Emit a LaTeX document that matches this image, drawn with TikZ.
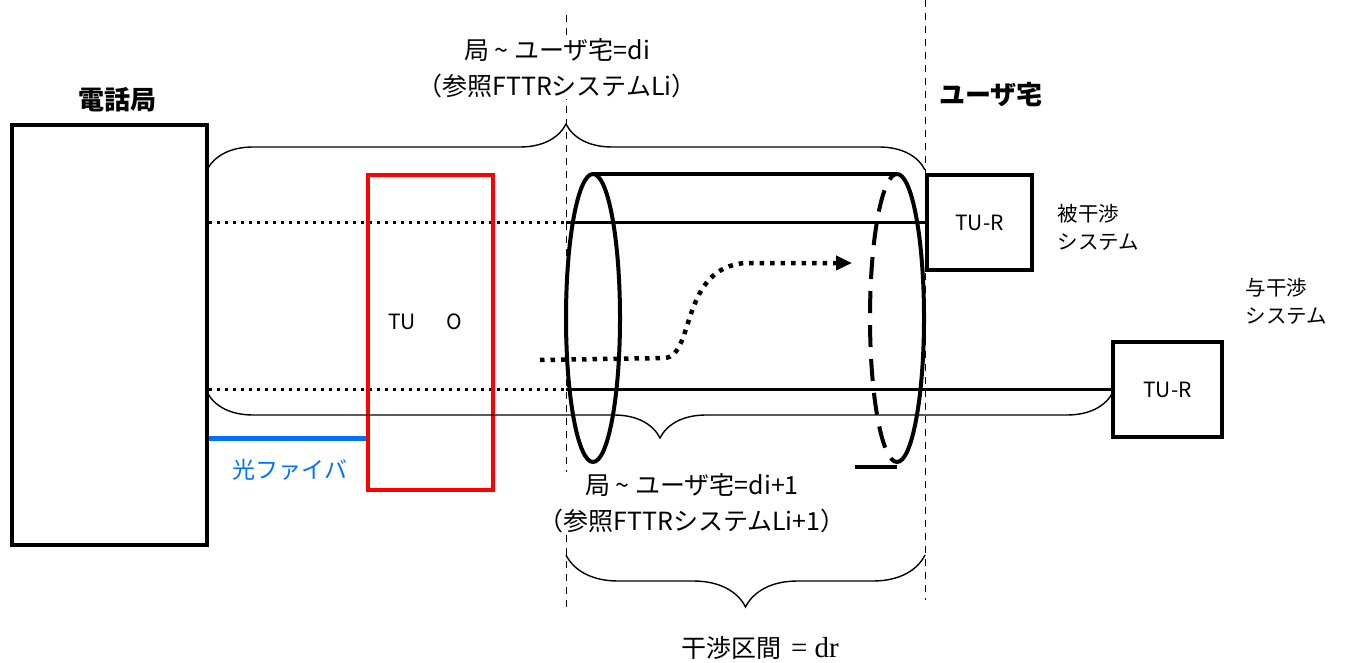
\documentclass[tikz,border=0pt]{standalone}
\usepackage{fontspec}
\setmainfont{Noto Sans CJK JP}
\newfontfamily\serifmath{Liberation Serif}
\usetikzlibrary{decorations.pathreplacing,arrows.meta}
\definecolor{fiberblue}{RGB}{0,112,255}
\tikzset{
  box/.style={draw, line width=4.5pt, minimum width=#1, inner sep=0pt},
  dotline/.style={line width=3pt, dash pattern=on 3pt off 5pt},
  thinline/.style={line width=2.2pt},
  cyl/.style={line width=4pt},
  guide/.style={line width=1pt, dash pattern=on 7pt off 6pt},
  bracestyle/.style={line width=1.4pt, decorate, decoration={brace, amplitude=#1}},
  lbl/.style={font=\fontsize{25}{36}\selectfont, align=center},
}
\begin{document}
\begin{tikzpicture}[x=1pt,y=-1pt]
\useasboundingbox (0,0) rectangle (1348,663);
% guides
\draw[guide] (566,15) -- (566,610);
\draw[guide] (925,0) -- (925,600);
% boxes
\node[box=195pt, minimum height=420pt] (office) at (109.5,335) {};
\node[box=105pt, minimum height=95pt, font=\fontsize{21}{22}\selectfont] (tur1) at (979.5,222.5) {TU-R};
\node[box=109pt, minimum height=95pt, font=\fontsize{21}{22}\selectfont] (tur2) at (1167.5,389.5) {TU-R};
% lines
\coordinate (m1) at (566,222.5);
\coordinate (m2) at (566,389.5);
\draw[dotline] (office.east |- m1) -- (m1);
\draw[thinline] (m1) -- (tur1.west);
\draw[dotline] (office.east |- m2) -- (m2);
\draw[thinline] (m2) -- (tur2.west);
% red TU-O box
\node[draw=red, line width=4pt, minimum width=125pt, minimum height=315pt, font=\fontsize{21}{22}\selectfont] (tuo) at (430.5,332.5) {};
\node[font=\fontsize{21}{22}\selectfont] (tuotext) at (425,322) {TU\hspace{30pt}O};
% fibre
\draw[fiberblue, line width=5pt] (office.east |- 0,438) -- (tuo.west |- 0,438);
\node[text=fiberblue, font=\fontsize{23}{25}\selectfont] (fiber) at (290,470) {光ファイバ};
% braces
\draw[bracestyle=46pt] (207,170) -- (925,170);
\draw[bracestyle=46pt] (1113,392) -- (207,392);
\draw[bracestyle=52pt] (925,555) -- (566,555);
% cylinder
\draw[cyl] (593,318) ellipse [x radius=27, y radius=144];
\draw[cyl] (593,174) -- (897,174);
\begin{scope}
\clip (897,100) rectangle (1000,520);
\draw[cyl] (897,318) ellipse [x radius=27, y radius=144];
\end{scope}
\begin{scope}
\clip (800,100) rectangle (897,520);
\draw[cyl, dash pattern=on 22pt off 12pt] (897,318) ellipse [x radius=27, y radius=144];
\end{scope}
\draw[cyl] (855,467) -- (897,467);
% coupling arrow
\draw[line width=4.5pt, dash pattern=on 4.5pt off 6pt, -{Triangle[length=16pt,width=14pt]}]
  (540,360) -- (665,358) .. controls (695,355) and (680,268) .. (745,263) -- (852,263);
% labels
\node[lbl, fill=white, inner sep=1pt] (toplbl) at (557,68) {局 \textasciitilde{} ユーザ宅=di\\（参照FTTRシステムLi）};
\node[lbl, fill=white, inner sep=1pt] (botlbl) at (692,503) {局 \textasciitilde{} ユーザ宅=di+1\\（参照FTTRシステムLi+1）};
\node[font=\fontsize{26}{28}\selectfont\bfseries] (offlbl) at (117,100) {電話局};
\node[font=\fontsize{26}{28}\selectfont\bfseries] (userlbl) at (991,95) {ユーザ宅};
\node[anchor=west, align=left, font=\fontsize{20.5}{28}\selectfont] (vict) at (1054,227) {被干渉\\システム};
\node[anchor=west, align=left, font=\fontsize{20.5}{28}\selectfont] (aggr) at (1242,301) {与干渉\\システム};
\node[font=\fontsize{25}{27}\selectfont] (drlbl) at (760,648) {干渉区間\hspace{10pt}{\serifmath\fontsize{29}{30}\selectfont = dr}};
\end{tikzpicture}
\end{document}
